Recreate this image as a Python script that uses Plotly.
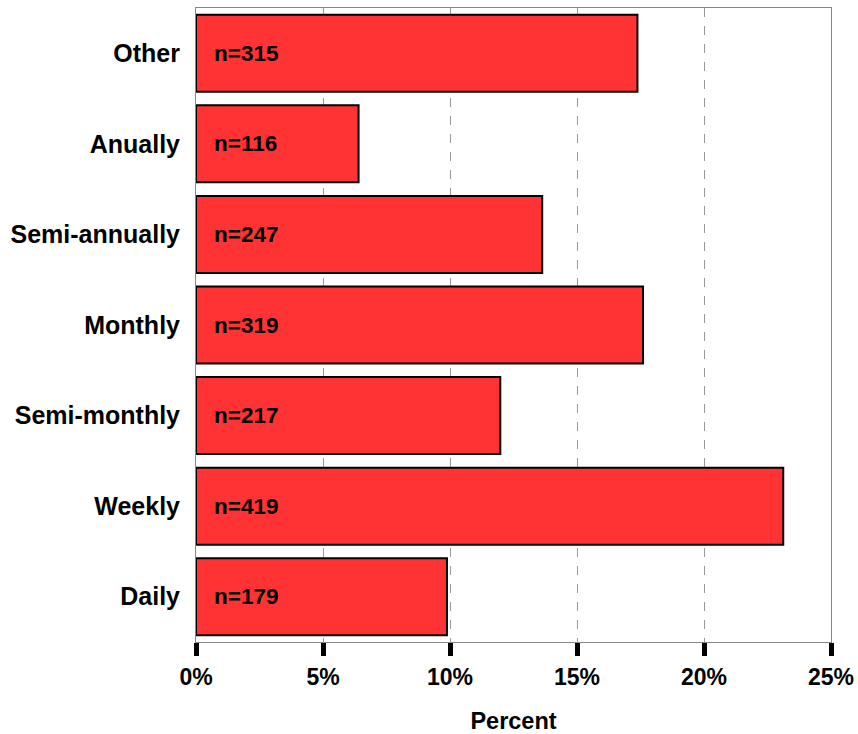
import plotly.graph_objects as go

# Payment frequency categories, bottom to top
categories = ["Daily", "Weekly", "Semi-monthly", "Monthly", "Semi-annually", "Anually", "Other"]
percents = [9.88, 23.12, 11.98, 17.60, 13.63, 6.40, 17.38]
counts = [179, 419, 217, 319, 247, 116, 315]
x_ticks = [0, 5, 10, 15, 20, 25]
x_tick_labels = ["0%", "5%", "10%", "15%", "20%", "25%"]

FONT = "Liberation Sans, Arial, sans-serif"

fig = go.Figure(
    go.Bar(
        x=percents,
        y=categories,
        orientation="h",
        marker=dict(color="#FF3333", line=dict(color="#000000", width=2)),
        hoverinfo="skip",
    )
)

# "n=" labels inside each bar, near its base
for cat, n in zip(categories, counts):
    fig.add_annotation(
        x=0, y=cat, xref="x", yref="y",
        text=f"n={n}", showarrow=False,
        xanchor="left", yanchor="middle", xshift=16,
        font=dict(family=FONT, size=22.5, color="#000000", weight="bold"),
    )

fig.update_layout(
    width=858, height=734,
    margin=dict(l=196, r=27, t=8, b=92),
    paper_bgcolor="white", plot_bgcolor="white",
    bargap=0.15,
    showlegend=False,
    font=dict(family=FONT, color="#000000"),
)

fig.update_xaxes(
    range=[0, 25],
    automargin=False,
    tickvals=x_ticks, ticktext=x_tick_labels,
    tickfont=dict(family=FONT, size=23, color="#000000", weight="bold"),
    ticks="outside", ticklen=13, tickwidth=5, tickcolor="#000000",
    ticklabelstandoff=1,
    showgrid=True, gridcolor="#999999", gridwidth=1, griddash="dash",
    showline=True, linecolor="#888888", linewidth=1, mirror=True,
    zeroline=False,
    title=dict(text="Percent", standoff=27,
               font=dict(family=FONT, size=23.5, color="#000000", weight="bold")),
)

fig.update_yaxes(
    categoryorder="array", categoryarray=categories,
    range=[-0.5, len(categories) - 0.5],
    automargin=False,
    tickfont=dict(family=FONT, size=25, color="#000000", weight="bold"),
    ticks="", ticklabelstandoff=10,
    showgrid=False,
    showline=True, linecolor="#888888", linewidth=1, mirror=True,
    zeroline=False,
)

fig.write_html("out.html")
